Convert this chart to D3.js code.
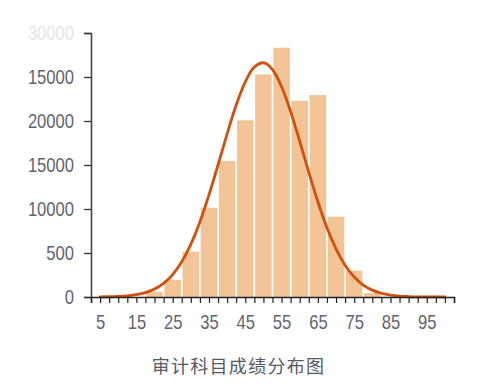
<!DOCTYPE html>
<html><head><meta charset="utf-8">
<script src="https://cdn.jsdelivr.net/npm/d3@7"></script>
<style>
html,body{margin:0;padding:0;background:#fff;}
svg{display:block;}
</style></head>
<body>
<svg id="chart" width="499" height="392"></svg>
<script>
// Histogram bins (centre of 5-point bin) and counts
const binCenters = [20, 25, 30, 35, 40, 45, 50, 55, 60, 65, 70, 75, 80];
const binCounts  = [580, 1950, 5150, 10150, 15450, 20080, 25300, 28330, 22300, 22950, 9130, 2990, 450];
// Fitted curve points
const curveX = [5, 7.5, 10, 12.5, 15, 17.5, 20, 22.5, 25, 27.5, 30, 32.5, 35, 37.5, 40, 42.5, 45, 47.5, 50, 52.5, 55, 57.5, 60, 62.5, 65, 67.5, 70, 72.5, 75, 77.5, 80, 82.5, 85, 87.5, 90, 92.5, 95, 97.5, 100];
const curveY = [12, 27, 62, 130, 260, 492, 897, 1547, 2545, 3995, 5980, 8530, 11600, 15020, 18530, 21810, 24450, 26130, 26620, 25830, 23890, 21070, 17700, 14180, 10820, 7870, 5460, 3607, 2270, 1362, 780, 424, 221, 105, 52, 22, 10, 4, 1];
// Axis ticks and labels
const xTickValues = d3.range(2.5, 102.6, 2.5);
const xLabelValues = [5, 15, 25, 35, 45, 55, 65, 75, 85, 95];
const yTickValues = [0, 5000, 10000, 15000, 20000, 25000, 30000];
const yTickLabels = ["0", "500", "10000", "15000", "20000", "15000", "30000"];
const title = "审计科目成绩分布图";
const binWidth = 5;

const svg = d3.select("#chart");
const x = d3.scaleLinear().domain([2.5, 102.5]).range([91, 454]);
const y = d3.scaleLinear().domain([0, 30000]).range([297, 33]);

const font = "'Liberation Sans',Arial,sans-serif";
const sx = 0.83;

// bars
svg.append("g").selectAll("rect").data(binCenters).join("rect")
  .attr("x", (d) => x(d - binWidth/2) + 0.8)
  .attr("width", (d) => x(d + binWidth/2) - x(d - binWidth/2) - 1.6)
  .attr("y", (d,i) => y(binCounts[i]))
  .attr("height", (d,i) => y(0) - y(binCounts[i]))
  .attr("fill", "#F3C596");

// curve
const pts = curveX.map((v,i) => [v, curveY[i]]);
svg.append("path").datum(pts)
  .attr("d", d3.line().x(d => x(d[0])).y(d => y(d[1])).curve(d3.curveMonotoneX))
  .attr("fill", "none").attr("stroke", "#D24F0C").attr("stroke-width", 2.8)
  .attr("stroke-linecap", "round");

// y axis
const yAxis = svg.append("g").attr("transform", `translate(${x(2.5)},0)`)
  .call(d3.axisLeft(y).tickValues(yTickValues).tickSize(7).tickPadding(10)
    .tickFormat((d,i) => yTickLabels[i]));
yAxis.select(".domain").attr("stroke", "#444").attr("stroke-width", 1.6);
yAxis.selectAll(".tick line").attr("stroke", "#333").attr("stroke-width", 1.3);
yAxis.selectAll("text").attr("font-family", font).attr("font-size", 20).attr("fill", "#5f6570")
  .attr("x", -17 / sx).attr("transform", `scale(${sx},1)`);
yAxis.selectAll(".tick").filter((d) => d === 30000).select("text").attr("fill", "#e4e6ea");

// x axis
const xAxis = svg.append("g").attr("transform", `translate(0,${y(0)})`)
  .call(d3.axisBottom(x).tickValues(xTickValues).tickSize(6).tickPadding(12)
    .tickFormat(d => xLabelValues.includes(d) ? d : ""));
xAxis.select(".domain").attr("stroke", "#222").attr("stroke-width", 1.5);
xAxis.selectAll(".tick line").attr("stroke", "#222").attr("stroke-width", 1.2);
xAxis.selectAll("text").attr("font-family", font).attr("font-size", 20).attr("fill", "#5f6570")
  .attr("transform", `scale(${sx},1)`);

// title
svg.append("text").attr("x", 238.5).attr("y", 373).attr("text-anchor", "middle")
  .attr("font-family", "'Noto Sans CJK SC',sans-serif").attr("font-size", 18)
  .attr("letter-spacing", 1.3).attr("fill", "#555b66").text(title);
</script>
</body></html>
